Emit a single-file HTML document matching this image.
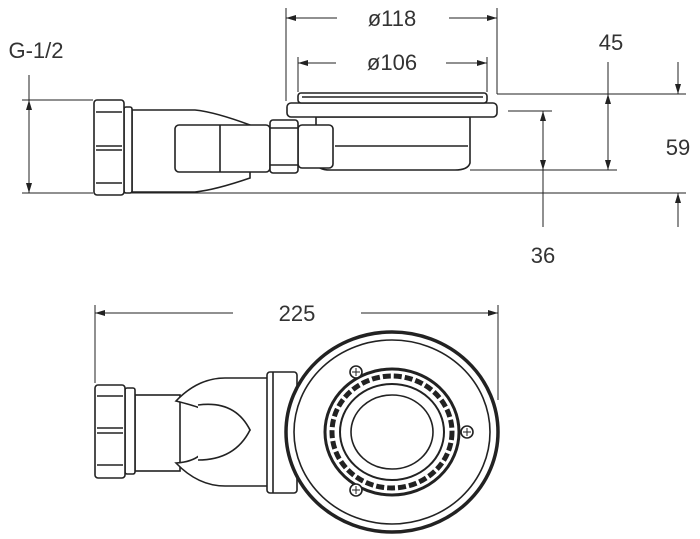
<!DOCTYPE html>
<html><head><style>html,body{margin:0;padding:0;background:#fff}svg{display:block}</style></head><body>
<svg width="700" height="539" viewBox="0 0 700 539" xmlns="http://www.w3.org/2000/svg">
<defs>
<marker id="a" viewBox="0 0 10 6" refX="10" refY="3" markerWidth="10" markerHeight="6" orient="auto-start-reverse" markerUnits="userSpaceOnUse"><path d="M0,0L10,3L0,6z" fill="#222"/></marker>
</defs>
<g font-family="Liberation Sans, sans-serif" font-size="22" fill="#333" text-anchor="middle">
<text x="392" y="26">ø118</text>
<text x="392" y="70">ø106</text>
<text x="36" y="58">G-1/2</text>
<text x="611" y="50">45</text>
<text x="678" y="155">59</text>
<text x="543" y="263">36</text>
<text x="297" y="321">225</text>
</g>
<g stroke="#222" stroke-width="1" fill="none">
<line x1="286" y1="8" x2="286" y2="101"/><line x1="497" y1="8" x2="497" y2="94"/>
<line x1="286" y1="18" x2="337" y2="18" marker-start="url(#a)"/><line x1="449" y1="18" x2="497" y2="18" marker-end="url(#a)"/>
<line x1="298" y1="57" x2="298" y2="92"/><line x1="487" y1="57" x2="487" y2="92"/>
<line x1="298" y1="63" x2="336" y2="63" marker-start="url(#a)"/><line x1="446" y1="63" x2="487" y2="63" marker-end="url(#a)"/>
<line x1="497" y1="94" x2="686" y2="94"/>
<line x1="678" y1="62" x2="678" y2="94" marker-end="url(#a)"/>
<line x1="608" y1="62" x2="608" y2="94" /><line x1="608" y1="94" x2="608" y2="170" marker-start="url(#a)" marker-end="url(#a)"/>
<line x1="470" y1="170" x2="617" y2="170"/>
<line x1="22" y1="193" x2="93" y2="193"/><line x1="131" y1="193" x2="686" y2="193"/>
<line x1="678" y1="227" x2="678" y2="193" marker-end="url(#a)"/>
<line x1="508" y1="111" x2="552" y2="111"/>
<line x1="543" y1="111" x2="543" y2="170" marker-start="url(#a)" marker-end="url(#a)"/><line x1="543" y1="170" x2="543" y2="227"/>
<line x1="22" y1="100" x2="93" y2="100"/>
<line x1="29" y1="75" x2="29" y2="100"/><line x1="29" y1="100" x2="29" y2="193" marker-start="url(#a)" marker-end="url(#a)"/>
<line x1="95" y1="305" x2="95" y2="383"/><line x1="498" y1="305" x2="498" y2="400"/>
<line x1="95" y1="313" x2="233" y2="313" marker-start="url(#a)"/><line x1="361" y1="313" x2="498" y2="313" marker-end="url(#a)"/>
</g>
<g stroke="#222" stroke-width="1.6" fill="#fff">
<path d="M132,110 L195,110 Q215,112 250,125 L250,178 Q215,190 195,192 L132,192 Z"/>
<rect x="124" y="107" width="8" height="86" rx="2"/>
<rect x="94" y="100" width="30" height="95" rx="3"/>
<line x1="96" y1="112" x2="122" y2="112"/><line x1="96" y1="146" x2="122" y2="146"/><line x1="96" y1="150" x2="122" y2="150"/><line x1="96" y1="183" x2="122" y2="183"/>
<path d="M316,117 L470,117 L470,163 Q468,170 455,170 L330,170 Q318,170 316,163 Z"/>
<line x1="335" y1="146" x2="468" y2="146"/>
<rect x="175" y="125" width="95" height="47" rx="4"/>
<line x1="220" y1="125" x2="220" y2="172"/>
<rect x="298" y="125" width="35" height="43" rx="4"/>
<rect x="270" y="120" width="28" height="53" rx="3"/>
<line x1="270" y1="128" x2="298" y2="128"/><line x1="270" y1="165" x2="298" y2="165"/>
<rect x="287" y="103" width="210" height="14" rx="4"/>
<rect x="298" y="93" width="189" height="10" rx="3"/>
<line x1="302" y1="97" x2="483" y2="97"/>
</g>
<g stroke="#222" stroke-width="1.6" fill="#fff">
<rect x="135" y="395" width="45" height="76"/>
<path d="M176,401 Q198,378 225,378 L268,378 L268,486 L225,486 Q198,486 176,463 Q192,462 200,455 Q240,440 250,430 Q240,410 200,408 Q192,405 176,401 Z"/>
<path d="M198,405 Q235,400 250,430 Q235,460 198,460"/>
<rect x="125" y="388" width="10" height="86" rx="2"/>
<rect x="95" y="385" width="30" height="93" rx="3"/>
<line x1="97" y1="396" x2="123" y2="396"/><line x1="97" y1="428" x2="123" y2="428"/><line x1="97" y1="433" x2="123" y2="433"/><line x1="97" y1="465" x2="123" y2="465"/>
<rect x="267" y="372" width="30" height="121" rx="3"/>
<line x1="273" y1="372" x2="273" y2="493"/>
<ellipse cx="392" cy="432" rx="106" ry="100" stroke-width="3.5"/>
<ellipse cx="392" cy="432" rx="98" ry="92"/>
<ellipse cx="392" cy="432" rx="67" ry="63" stroke-width="3"/>
<ellipse cx="392" cy="432" rx="60" ry="56" stroke-width="5" stroke-dasharray="8 3" fill="none"/>
<ellipse cx="392" cy="432" rx="52" ry="48" stroke-width="2"/>
<ellipse cx="392" cy="432" rx="41" ry="37"/>
<circle cx="356" cy="372" r="6"/><circle cx="467" cy="432" r="6"/><circle cx="356" cy="490" r="6"/>
</g>
<g stroke="#222" stroke-width="1">
<path d="M352,372h8M356,368v8M463,432h8M467,428v8M352,490h8M356,486v8"/>
</g>
</svg>
</body></html>
